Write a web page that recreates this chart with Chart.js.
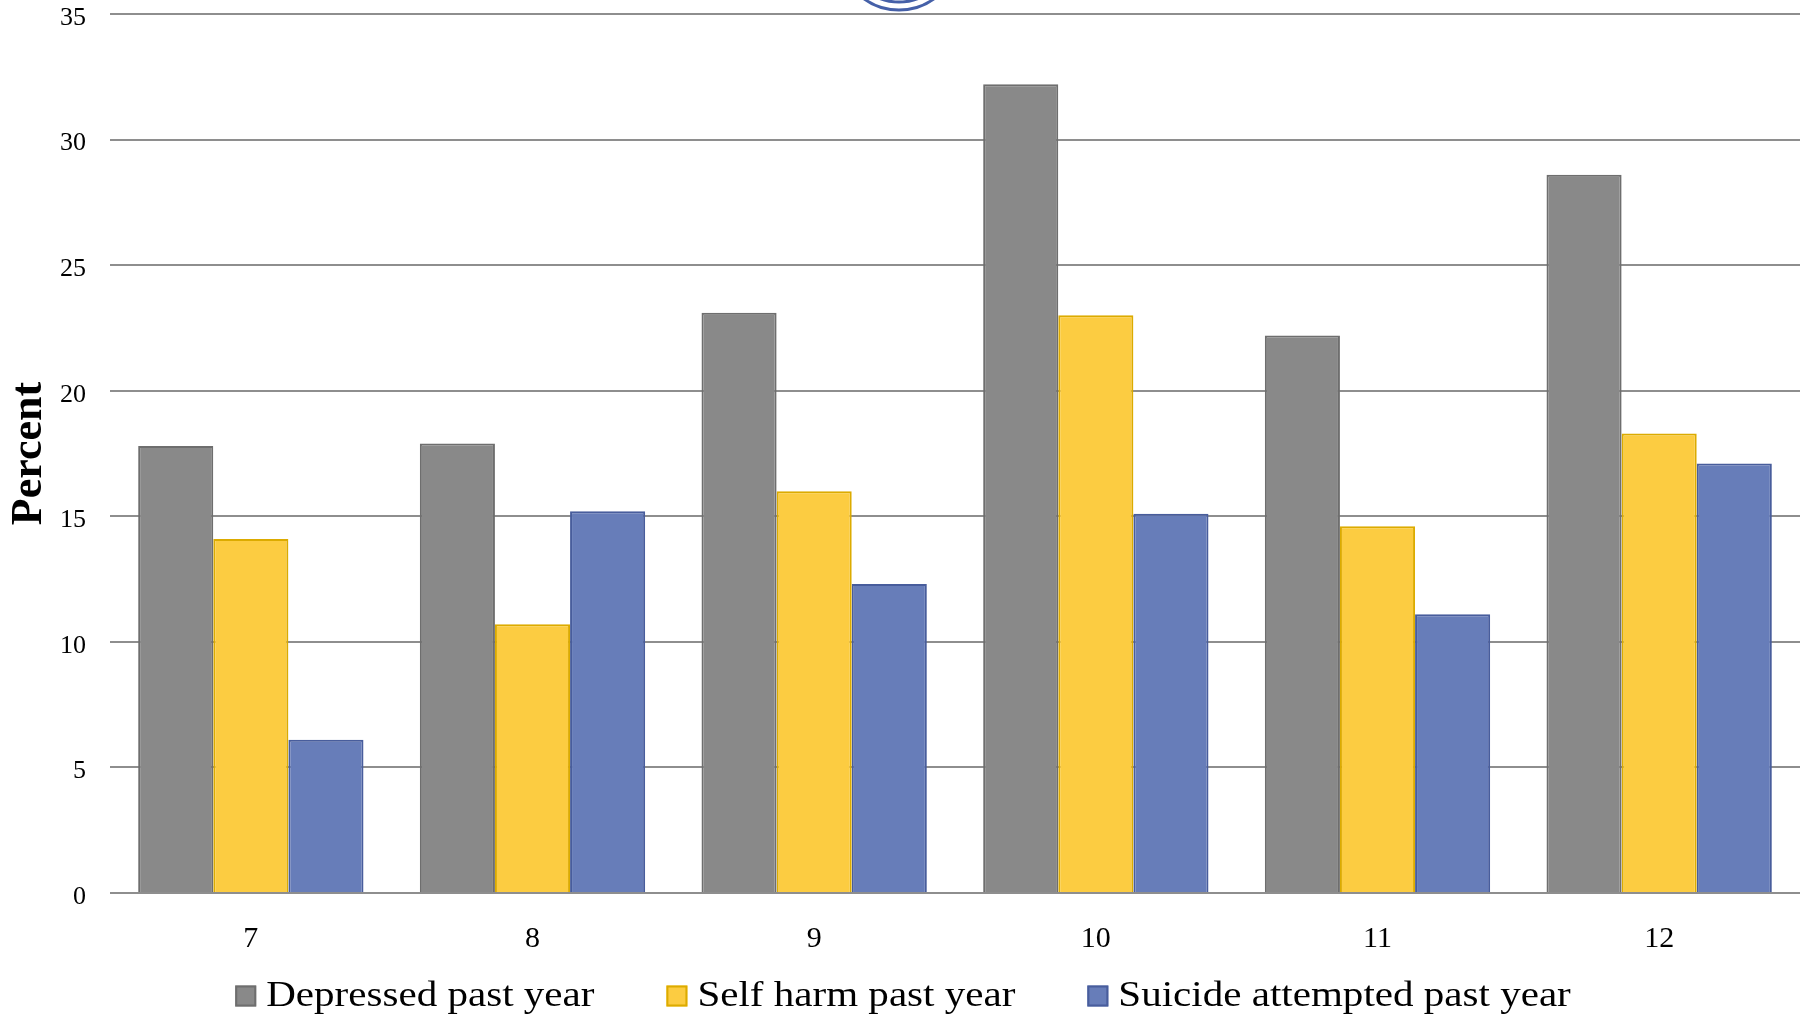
<!DOCTYPE html>
<html>
<head>
<meta charset="utf-8">
<script src="https://cdn.jsdelivr.net/npm/chart.js@4"></script>
<style>
    html, body { margin: 0; padding: 0; background: #fff; }
    #wrap { width: 1806px; height: 1017px; position: relative; }
</style>
</head>
<body>
<div id="wrap"><canvas id="barChart"></canvas></div>
<script>
const grades = ['7', '8', '9', '10', '11', '12'];
const depressed = [17.8, 17.9, 23.1, 32.2, 22.2, 28.6];
const selfHarm = [14.1, 10.7, 16.0, 23.0, 14.6, 18.3];
const suicideAttempted = [6.1, 15.2, 12.3, 15.1, 11.1, 17.1];
const yTicks = [0, 5, 10, 15, 20, 25, 30, 35];

const SERIF = '"Liberation Serif", "DejaVu Serif", serif';

// top logo fragment (cut off at the top edge)
const logoPlugin = {
    id: 'logo',
    afterDraw(chart) {
        const ctx = chart.ctx;
        ctx.save();
        ctx.strokeStyle = '#4560a8';
        ctx.lineWidth = 3;
        [60, 52].forEach(r => {
            ctx.beginPath();
            ctx.arc(899, -50, r, 0, Math.PI * 2);
            ctx.stroke();
        });
        ctx.restore();
    }
};

// legend drawn by hand so the gaps between items match
const legendPlugin = {
    id: 'bottomLegend',
    afterDraw(chart) {
        const ctx = chart.ctx;
        const box = 21, boxGap = 10, itemGap = 72, cy = 996, stretch = 1.14;
        ctx.save();
        ctx.font = '36px ' + SERIF;
        ctx.textBaseline = 'middle';
        const items = chart.data.datasets.map(ds => ({
            ds, w: ctx.measureText(ds.label).width * stretch
        }));
        const total = items.reduce((a, it) => a + box + boxGap + it.w, 0) + itemGap * (items.length - 1);
        let x = (chart.width - total) / 2;
        items.forEach(it => {
            ctx.fillStyle = it.ds.backgroundColor;
            ctx.strokeStyle = it.ds.borderColor;
            ctx.lineWidth = 2;
            ctx.fillRect(x, cy - box / 2, box, box);
            ctx.strokeRect(x + 1, cy - box / 2 + 1, box - 2, box - 2);
            ctx.fillStyle = '#000';
            ctx.save();
            ctx.translate(x + box + boxGap, cy + 1);
            ctx.scale(stretch, 1);
            ctx.fillText(it.ds.label, 0, 0);
            ctx.restore();
            x += box + boxGap + it.w + itemGap;
        });
        ctx.restore();
    }
};

function initChart() {
    const ctx = document.getElementById('barChart').getContext('2d');
    new Chart(ctx, {
        type: 'bar',
        data: {
            labels: grades,
            datasets: [
                { label: 'Depressed past year', data: depressed, backgroundColor: '#898989', borderColor: '#6e6e6e' },
                { label: 'Self harm past year', data: selfHarm, backgroundColor: '#fccc41', borderColor: '#dcab00' },
                { label: 'Suicide attempted past year', data: suicideAttempted, backgroundColor: '#677db9', borderColor: '#485d9c' }
            ]
        },
        options: {
            responsive: true,
            maintainAspectRatio: false,
            animation: false,
            layout: { padding: { top: 0, right: 6, bottom: 44, left: 0 } },
            datasets: {
                bar: { borderWidth: 2, categoryPercentage: 0.8, barPercentage: 1.0 }
            },
            scales: {
                x: {
                    grid: { display: false },
                    border: { display: false },
                    ticks: { color: '#000', padding: 20, font: { family: SERIF, size: 30 } },
                    afterFit(scale) { scale.height = 80; }
                },
                y: {
                    min: 0,
                    max: 35,
                    afterBuildTicks(scale) { scale.ticks = yTicks.map(v => ({ value: v })); },
                    grid: { color: '#8e8e8e', lineWidth: 2, drawTicks: false },
                    border: { display: false },
                    ticks: { color: '#000', padding: 24, labelOffset: 4, font: { family: SERIF, size: 26 } },
                    title: {
                        display: true,
                        text: 'Percent',
                        color: '#000',
                        padding: { top: 3, bottom: 0 },
                        font: { family: SERIF, size: 44, weight: 'bold' }
                    },
                    afterFit(scale) {
                        scale.width = 110;
                        scale.paddingTop = 14;
                        scale.paddingBottom = 0;
                    }
                }
            },
            plugins: {
                legend: { display: false },
                tooltip: { enabled: false }
            }
        },
        plugins: [logoPlugin, legendPlugin]
    });
}

document.addEventListener('DOMContentLoaded', initChart);
</script>
</body>
</html>
